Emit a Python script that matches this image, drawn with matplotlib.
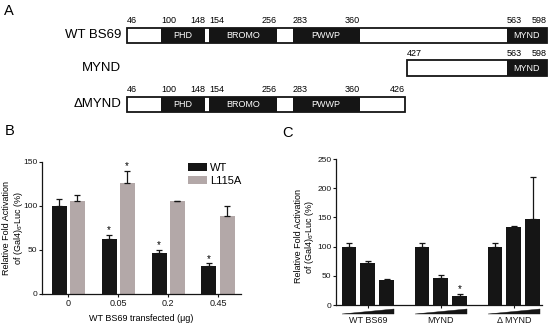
import numpy as np
import matplotlib
matplotlib.use("Agg")
import matplotlib.pyplot as plt
from matplotlib.patches import Rectangle, Polygon, Patch
from matplotlib.transforms import blended_transform_factory

plt.rcParams['font.family'] = ['Liberation Sans', 'DejaVu Sans']
plt.rcParams['mathtext.fontset'] = 'custom'
plt.rcParams['mathtext.rm'] = 'Liberation Sans'
plt.rcParams['mathtext.it'] = 'Liberation Sans:italic'

# ---------------- Panel A data ----------------
construct_names = ["WT BS69", "MYND", "\u0394MYND"]
construct_start = [46, 427, 46]
construct_end = [598, 598, 426]
domain_names = ["PHD", "BROMO", "PWWP", "MYND"]
domain_start = [100, 154, 283, 563]
domain_end = [148, 256, 360, 598]
construct_domains = [[0, 1, 2, 3], [3], [0, 1, 2]]

# ---------------- Panel B data ----------------
doses = ["0", "0.05", "0.2", "0.45"]
wt_vals = [100, 62, 47, 32]
wt_err = [8, 5, 3, 3]
l115a_vals = [105, 126, 105, 89]
l115a_err = [7, 14, 1, 11]
wt_sig = [False, True, True, True]
l115a_sig = [False, True, False, False]

# ---------------- Panel C data ----------------
groups = ["WT BS69", "MYND", "\u0394 MYND"]
c_vals = [[100, 72, 43], [100, 47, 15], [100, 133, 148]]
c_err = [[6, 3, 2], [6, 5, 4], [6, 3, 72]]
c_sig = [[False, False, False], [False, False, True], [False, False, False]]

# ---------------- layout (diagram is not drawn to scale) ----------------
AA_BREAKS = [46, 100, 148, 154, 256, 283, 360, 426, 427, 563, 598]
PX_BREAKS = [127, 161, 205, 209, 277, 293, 359.5, 405, 407, 507, 547]
ROW_TOP = [27.5, 60, 96.5]
BOX_H = 15.5

def xmap(a):
    return float(np.interp(a, AA_BREAKS, PX_BREAKS))

W, H = 550, 333
fig = plt.figure(figsize=(5.5, 3.33), dpi=100)

BLACK = "#151515"
GREY = "#b3a8a8"

# ---------------- Panel A ----------------
axA = fig.add_axes([0, 0, 1, 1])
axA.set_xlim(0, W)
axA.set_ylim(H, 0)
axA.axis('off')

for r, name in enumerate(construct_names):
    top = ROW_TOP[r]
    x0 = xmap(construct_start[r])
    x1 = xmap(construct_end[r])
    for d in construct_domains[r]:
        dx0 = xmap(domain_start[d])
        dx1 = xmap(min(domain_end[d], construct_end[r]))
        axA.add_patch(Rectangle((dx0, top), dx1 - dx0, BOX_H, facecolor=BLACK,
                                edgecolor='none'))
        axA.text((dx0 + dx1) / 2, top + BOX_H / 2 + 0.5, domain_names[d], color='white',
                 ha='center', va='center', fontsize=6.5)
    axA.add_patch(Rectangle((x0, top), x1 - x0, BOX_H, facecolor='none',
                            edgecolor=BLACK, lw=1.3))
    axA.text(121, top + BOX_H / 2, name, ha='right', va='center', fontsize=9.5)
    starts = [construct_start[r]] + [domain_start[d] for d in construct_domains[r]]
    ends = [domain_end[d] for d in construct_domains[r] if domain_end[d] != construct_end[r]] + [construct_end[r]]
    for s in starts:
        axA.text(xmap(s), top - 2.5, str(s), ha='left', va='bottom', fontsize=6.5)
    for e in ends:
        axA.text(xmap(e), top - 2.5, str(e), ha='right', va='bottom', fontsize=6.5)

# panel letters
fig.text(4 / W, 1 - 4 / H, "A", ha='left', va='top', fontsize=10.5)
fig.text(5 / W, 1 - 124 / H, "B", ha='left', va='top', fontsize=10.5)
fig.text(282 / W, 1 - 126 / H, "C", ha='left', va='top', fontsize=10.5)

ylab = "Relative Fold Activation\nof (Gal4)$_{6}$-Luc (%)"

def style_axes(ax):
    for s in ['top', 'right']:
        ax.spines[s].set_visible(False)
    for s in ['left', 'bottom']:
        ax.spines[s].set_linewidth(0.9)
        ax.spines[s].set_color(BLACK)
    ax.tick_params(axis='both', length=2.2, width=0.8, labelsize=6.5, colors=BLACK)

# ---------------- Panel B ----------------
axB = fig.add_axes([42 / W, 39 / H, 199 / W, 132.3 / H])
style_axes(axB)
xb = np.arange(len(doses))
bw = 0.3
ekw = dict(ecolor=BLACK, elinewidth=0.9, capsize=2.5, capthick=0.9)
axB.bar(xb - 0.18, wt_vals, bw, color=BLACK, yerr=[np.zeros(len(wt_err)), wt_err],
        error_kw=ekw, label="WT")
axB.bar(xb + 0.18, l115a_vals, bw, color=GREY, yerr=[np.zeros(len(l115a_err)), l115a_err],
        error_kw=ekw, label="L115A")
for i in range(len(doses)):
    if wt_sig[i]:
        axB.annotate("*", (xb[i] - 0.18, wt_vals[i] + wt_err[i]), xytext=(0, 1),
                     textcoords='offset points', ha='center', va='baseline', fontsize=7)
    if l115a_sig[i]:
        axB.annotate("*", (xb[i] + 0.18, l115a_vals[i] + l115a_err[i]), xytext=(0, 1),
                     textcoords='offset points', ha='center', va='baseline', fontsize=7)
axB.set_xlim(-0.52, 3.46)
axB.set_ylim(0, 150)
axB.set_yticks([0, 50, 100, 150])
axB.set_xticks(xb)
axB.set_xticklabels(doses)
axB.tick_params(axis='x', pad=1.5)
axB.tick_params(axis='y', pad=1.0, labelsize=6)
axB.set_xlabel("WT BS69 transfected (\u03bcg)", fontsize=6.5, labelpad=4)
axB.set_ylabel(ylab, fontsize=6.5, linespacing=1.1)
axB.yaxis.set_label_coords(-0.087, 0.5)
handles = [Patch(facecolor=BLACK, edgecolor='none'), Patch(facecolor=GREY, edgecolor='none')]
axB.legend(handles, ["WT", "L115A"], loc='upper left', bbox_to_anchor=(0.734, 0.99),
           frameon=False, fontsize=8, handlelength=1.7, handleheight=0.72,
           handletextpad=0.3, labelspacing=0.25, borderpad=0, borderaxespad=0)

# ---------------- Panel C ----------------
axC = fig.add_axes([336 / W, 28 / H, 205.7 / W, 146 / H])
style_axes(axC)
sp = 0.26
cw = 0.205
for g in range(len(groups)):
    pos = g + (np.arange(3) - 1) * sp
    axC.bar(pos, c_vals[g], cw, color=BLACK, yerr=[np.zeros(3), c_err[g]], error_kw=ekw)
    for j in range(3):
        if c_sig[g][j]:
            axC.annotate("*", (pos[j], c_vals[g][j] + c_err[g][j]), xytext=(0, 1),
                         textcoords='offset points', ha='center', va='baseline', fontsize=7)
trans = blended_transform_factory(axC.transData, axC.transAxes)
for g in range(len(groups)):
    xl = g - sp - cw / 2
    xr = g + sp + cw / 2
    axC.add_patch(Polygon([(xl, -0.062), (xr, -0.062), (xr, -0.028)], closed=True,
                          facecolor=BLACK, edgecolor=BLACK, lw=0.3,
                          transform=trans, clip_on=False))
axC.set_xlim(-0.438, 2.38)
axC.set_ylim(0, 250)
axC.set_yticks([0, 50, 100, 150, 200, 250])
axC.set_xticks(np.arange(len(groups)))
axC.set_xticklabels(groups)
axC.tick_params(axis='x', pad=6, labelsize=6.5)
axC.tick_params(axis='y', pad=1.0, labelsize=6)
axC.set_ylabel(ylab, fontsize=6.5, linespacing=1.1)
axC.yaxis.set_label_coords(-0.095, 0.47)

fig.savefig("out.png", dpi=100)
